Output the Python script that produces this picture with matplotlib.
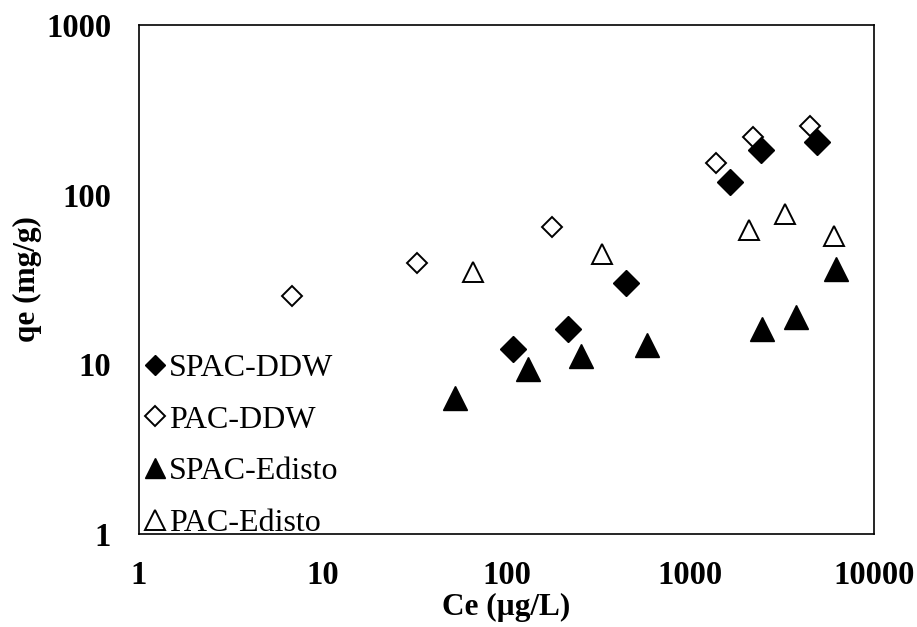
import matplotlib
matplotlib.use("Agg")
import matplotlib.pyplot as plt

# Isotherm data (Ce in ug/L, qe in mg/g)
spac_ddw_x = [108, 215, 447, 1650, 2440, 4880]
spac_ddw_y = [12.3, 16.2, 30.1, 119, 183, 205]

pac_ddw_x = [6.8, 32.6, 176, 1375, 2190, 4470]
pac_ddw_y = [25.3, 39.4, 64.4, 154, 218, 255]

spac_edisto_x = [52.5, 131, 255, 582, 2470, 3750, 6190]
spac_edisto_y = [6.3, 9.4, 11.2, 13.0, 16.1, 18.9, 36.3]

pac_edisto_x = [66, 332, 2100, 3290, 6040]
pac_edisto_y = [34.8, 44.5, 61.8, 76.5, 57]

x_ticks = [1, 10, 100, 1000, 10000]
y_ticks = [1, 10, 100, 1000]

plt.rcParams['font.family'] = ['Liberation Serif', 'DejaVu Serif']

fig = plt.figure(figsize=(9.17, 6.27), dpi=100)
ax = fig.add_axes([0.1516, 0.1483, 0.8015, 0.8118])

ax.plot(pac_ddw_x, pac_ddw_y, linestyle='none', marker='D', ms=9.8,
        mfc='white', mec='black', mew=1.4, label='PAC-DDW', zorder=3)
ax.plot(spac_ddw_x, spac_ddw_y, linestyle='none', marker='D', ms=13.2,
        mfc='black', mec='black', label='SPAC-DDW', zorder=4)
ax.plot(pac_edisto_x, pac_edisto_y, linestyle='none', marker='^', ms=14,
        mfc='white', mec='black', mew=1.4, label='PAC-Edisto', zorder=3)
ax.plot(spac_edisto_x, spac_edisto_y, linestyle='none', marker='^', ms=17,
        mfc='black', mec='black', label='SPAC-Edisto', zorder=4)

ax.set_xscale('log')
ax.set_yscale('log')
ax.set_xlim(1, 10000)
ax.set_ylim(1, 1000)
ax.set_xticks(x_ticks)
ax.set_xticklabels([str(v) for v in x_ticks])
ax.set_yticks(y_ticks)
ax.set_yticklabels([str(v) for v in y_ticks])
ax.minorticks_off()
ax.tick_params(axis='both', length=0, labelsize=23.5)
ax.tick_params(axis='x', pad=19)
ax.tick_params(axis='y', pad=20)
for lbl in ax.get_xticklabels() + ax.get_yticklabels():
    lbl.set_fontweight('bold')

for sp in ax.spines.values():
    sp.set_linewidth(1.2)
    sp.set_color('black')

ax.set_xlabel('Ce (µg/L)', fontsize=22.5, fontweight='bold', labelpad=1)
ax.set_ylabel('qe (mg/g)', fontsize=22.5, fontweight='bold', labelpad=3)

# legend in the reference order
handles, labels = ax.get_legend_handles_labels()
order = ['SPAC-DDW', 'PAC-DDW', 'SPAC-Edisto', 'PAC-Edisto']
h_map = dict(zip(labels, handles))
leg = ax.legend([h_map[k] for k in order], order, loc='lower left',
                bbox_to_anchor=(0.0, -0.014), frameon=False, fontsize=23,
                handlelength=0.8, handletextpad=0.05, labelspacing=0.7,
                borderaxespad=0.0, borderpad=0.1)
legend_sizes = {'SPAC-DDW': 10, 'PAC-DDW': 10, 'SPAC-Edisto': 14, 'PAC-Edisto': 14}
for h, name in zip(leg.legend_handles, order):
    h.set_markersize(legend_sizes[name])

fig.savefig('out.png', dpi=100)
